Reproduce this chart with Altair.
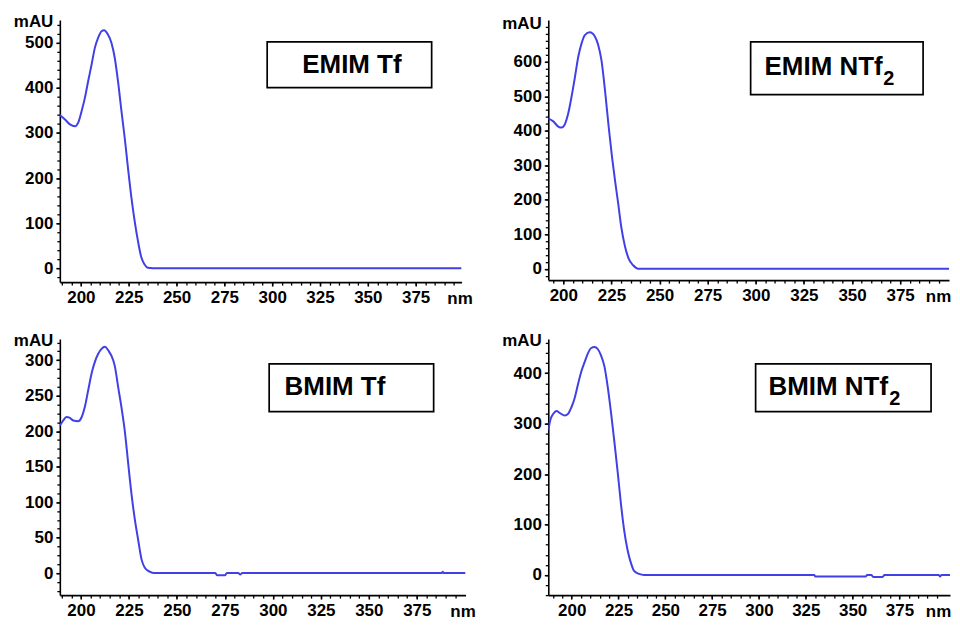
import altair as alt
import pandas as pd

FONT = "Liberation Sans"
LINE_COLOR = "#4040e6"

# ---------------- data ----------------
emim_tf_nm = [189, 191.7, 194.3, 196.9, 198.6, 200.4, 202.1, 203.8, 205.6, 207.3, 209, 210.8, 212.1,
              214.2, 216, 217.7, 219.4, 221.2, 222.9, 224.6, 226.4, 228.1, 229.8, 231.6, 233.3, 235,
              237.6, 399]
emim_tf_mau = [340, 330, 319, 315, 323, 349, 378, 415, 452, 489, 511, 526, 528,
               518, 500, 467, 415, 349, 290, 223, 157, 105, 61, 24, 8, 1,
               0, 0]

emim_ntf2_nm = [192.2, 194.8, 197.4, 199.1, 200.9, 202.6, 204.3, 206.1, 207.8, 209.5, 211.2, 213.8,
                216.4, 218.1, 219.8, 221.8, 223.6, 225.4, 227.0, 228.5, 230.2, 232, 233.9, 236.3,
                238.9, 400.4]
emim_ntf2_mau = [436, 427, 412, 409, 420, 451, 499, 557, 615, 653, 677, 685,
                 673, 649, 605, 510, 410, 320, 250, 190, 118, 66, 30, 10,
                 0, 0]

bmim_tf_nm = [189, 190.5, 192.5, 194, 196, 198.5, 200.4, 202.1, 203.8, 205.6, 207.3, 209, 210.7,
              212.5, 214.2, 216.8, 217.7, 219.4, 221.2, 222.9, 224.6, 226.4, 228, 229.8, 231.6,
              233.2, 235.8, 238.4, 270, 271, 275, 276, 282, 283, 284, 388, 388.5, 389, 400.4]
bmim_tf_mau = [208, 214, 220, 219, 215, 214, 220, 235, 258, 282, 298, 309, 316,
               319, 314, 300, 291, 262, 232, 199, 155, 110, 77, 47, 19,
               8, 2, 0, 0, -3, -3, 0, 0, -2, 0, 0, 2, 0, 0]

bmim_ntf2_nm = [187.5, 188.7, 190.1, 191.9, 193.7, 196.3, 198, 199.8, 201.6, 203.3, 205.1, 206.9,
                208.6, 210.4, 212.2, 213.9, 215.7, 217.5, 219.2, 221, 222.8, 224.5, 226.3, 228,
                229.8, 231.6, 233.3, 236, 238.6, 329.5, 330, 357, 357.7, 360, 361, 366, 367,
                396, 396.7, 397.5, 402]
bmim_ntf2_mau = [287, 309, 319, 325, 321, 316, 319, 332, 351, 377, 403, 422,
                 439, 450, 452, 448, 435, 413, 374, 322, 264, 206, 141, 89,
                 50, 24, 8, 2, 0, 0, -3, -3, 0, 0, -4, -4, 0,
                 0, -3, 0, 0]

panel_names = ["EMIM Tf", "EMIM NTf", "BMIM Tf", "BMIM NTf"]
panel_subscripts = ["", "2", "", "2"]

x_major = [200, 225, 250, 275, 300, 325, 350, 375]
x_minor = [190 + 5 * k for k in range(42)]

y_major_emim_tf = [0, 100, 200, 300, 400, 500]
y_major_emim_ntf2 = [0, 100, 200, 300, 400, 500, 600]
y_major_bmim_tf = [0, 50, 100, 150, 200, 250, 300]
y_major_bmim_ntf2 = [0, 100, 200, 300, 400]

y_minor_emim_tf = [-20 + 20 * k for k in range(29)]
y_minor_emim_ntf2 = [-20 + 20 * k for k in range(37)]
y_minor_bmim_tf = [-25 + 12.5 * k for k in range(29)]
y_minor_bmim_ntf2 = [-40 + 20 * k for k in range(26)]

one_row = pd.DataFrame({"k": [0]})

LBL = 17


def panel(nm, mau, xdom, ydom, ymajor, yminor, w, h, name, sub,
          box, text_pos, text_align, sub_pos, nm_x, mau_y):
    df = pd.DataFrame({"nm": nm, "mAU": mau})
    xs = alt.Scale(domain=xdom, nice=False, zero=False)
    ys = alt.Scale(domain=ydom, nice=False, zero=False)

    main = alt.Chart(df).mark_line(
        color=LINE_COLOR, strokeWidth=2, interpolate="monotone", clip=True
    ).encode(
        x=alt.X("nm:Q", scale=xs, axis=alt.Axis(
            orient="bottom", values=x_major, tickSize=4, tickWidth=1.5,
            domainWidth=1.6, domainColor="black", tickColor="black",
            labelFont=FONT, labelFontSize=LBL, labelFontWeight="bold", labelColor="black",
            labelPadding=3, labelFlush=False, labelOverlap=False, grid=False,
            title="nm", titleFont=FONT, titleFontSize=LBL, titleFontWeight="bold",
            titleColor="black", titleAlign="center", titleBaseline="middle",
            titleX=nm_x, titleY=16, titleAnchor="start")),
        y=alt.Y("mAU:Q", scale=ys, axis=alt.Axis(
            orient="left", values=ymajor, tickSize=4, tickWidth=1.5,
            domainWidth=1.6, domainColor="black", tickColor="black",
            labelFont=FONT, labelFontSize=LBL, labelFontWeight="bold", labelColor="black",
            labelPadding=3, labelFlush=False, labelOverlap=False, grid=False,
            title="mAU", titleFont=FONT, titleFontSize=LBL, titleFontWeight="bold",
            titleColor="black", titleAngle=0, titleAlign="right", titleBaseline="middle",
            titleX=-7, titleY=mau_y, titleAnchor="start")),
    )

    minor = alt.Chart(df).mark_point(opacity=0).encode(
        x=alt.X("nm:Q", scale=xs, axis=alt.Axis(
            orient="bottom", values=x_minor, tickSize=3, tickWidth=1.3, tickColor="black",
            labels=False, domain=False, grid=False, title=None)),
        y=alt.Y("mAU:Q", scale=ys, axis=alt.Axis(
            orient="left", values=yminor, tickSize=3, tickWidth=1.3, tickColor="black",
            labels=False, domain=False, grid=False, title=None)),
    )

    rect = alt.Chart(one_row).mark_rect(
        fill="white", stroke="black", strokeWidth=1.7
    ).encode(
        x=alt.value(box[0]), x2=alt.value(box[1]),
        y=alt.value(box[2]), y2=alt.value(box[3]),
    )

    label = alt.Chart(one_row).mark_text(
        font=FONT, fontSize=26, fontWeight="bold", color="black",
        align=text_align, baseline="middle"
    ).encode(
        x=alt.value(text_pos[0]), y=alt.value(text_pos[1]), text=alt.value(name)
    )

    layers = [main, minor, rect, label]
    if sub:
        subl = alt.Chart(one_row).mark_text(
            font=FONT, fontSize=20, fontWeight="bold", color="black",
            align="left", baseline="middle"
        ).encode(
            x=alt.value(sub_pos[0]), y=alt.value(sub_pos[1]), text=alt.value(sub)
        )
        layers.append(subl)

    return alt.layer(*layers).resolve_axis(x="independent", y="independent").properties(
        width=w, height=h)


p1 = panel(emim_tf_nm, emim_tf_mau, [189, 399], [-31, 551], y_major_emim_tf, y_minor_emim_tf,
           403, 263, panel_names[0], panel_subscripts[0],
           (208, 373, 22, 68), (293, 45), "center", None, 401, 2)
p2 = panel(emim_ntf2_nm, emim_ntf2_mau, [192.2, 400.4], [-33, 721], y_major_emim_ntf2,
           y_minor_emim_ntf2, 402, 261, panel_names[1], panel_subscripts[1],
           (203, 376, 22, 75), (217, 47), "left", (336, 59), 391, 4)
p3 = panel(bmim_tf_nm, bmim_tf_mau, [189, 400.4], [-31, 330], y_major_bmim_tf, y_minor_bmim_tf,
           407, 257, panel_names[2], panel_subscripts[2],
           (210, 375, 25, 73), (276, 48), "center", None, 404, 2)
p4 = panel(bmim_ntf2_nm, bmim_ntf2_mau, [187.5, 402], [-40, 468], y_major_bmim_ntf2,
           y_minor_bmim_ntf2, 403, 257, panel_names[3], panel_subscripts[3],
           (208, 384, 25, 73), (221, 48), "left", (342, 60), 391, 2)

chart = alt.concat(p1, p2, p3, p4, columns=2, align="each",
                   spacing={"row": 26, "column": 26}).properties(
    padding={"left": 5, "top": 4, "right": -1, "bottom": 0},
    background="white",
).configure_view(stroke=None)

chart.save("out.html", embed_options={"renderer": "svg", "actions": False})
